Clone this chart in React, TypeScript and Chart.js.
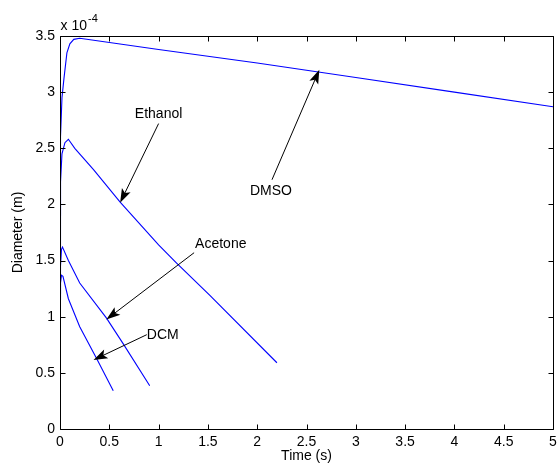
import React, { useEffect, useRef } from "react";
import { Chart, registerables } from "chart.js";
Chart.register(...registerables);

// Time (s) and diameter (x 1e-4 m) for each solvent
const dmsoTime = [0, 0.005, 0.02, 0.04, 0.07, 0.1, 0.14, 0.2, 1, 2, 3, 4, 5];
const dmsoDiam = [1.9, 2.6, 2.95, 3.12, 3.35, 3.43, 3.47, 3.48, 3.38, 3.26, 3.13, 3.0, 2.87];

const ethanolTime = [0, 0.005, 0.02, 0.05, 0.085, 0.15, 0.34, 0.61, 1.0, 1.18, 1.52, 2.2];
const ethanolDiam = [1.5, 2.2, 2.45, 2.55, 2.58, 2.5, 2.31, 2.02, 1.64, 1.48, 1.19, 0.59];

const acetoneTime = [0, 0.005, 0.015, 0.025, 0.085, 0.2, 0.47, 0.64, 0.91];
const acetoneDiam = [1.2, 1.45, 1.6, 1.62, 1.5, 1.3, 0.99, 0.76, 0.385];

const dcmTime = [0, 0.005, 0.015, 0.03, 0.085, 0.2, 0.37, 0.54];
const dcmDiam = [1.15, 1.3, 1.37, 1.36, 1.16, 0.91, 0.63, 0.34];

const xTicks = [0, 0.5, 1, 1.5, 2, 2.5, 3, 3.5, 4, 4.5, 5];
const yTicks = [0, 0.5, 1, 1.5, 2, 2.5, 3, 3.5];

// Text-arrow annotations (data coordinates)
const noteLabels = ["Ethanol", "DMSO", "Acetone", "DCM"];
const noteTextX = [1.0, 2.14, 1.37, 0.88];
const noteTextY = [2.8, 2.12, 1.65, 0.84];
const noteAlign = ["center", "center", "left", "left"];
const noteTailX = [1.0, 2.15, 1.36, 0.88];
const noteTailY = [2.72, 2.22, 1.57, 0.84];
const noteHeadX = [0.61, 2.63, 0.47, 0.34];
const noteHeadY = [2.015, 3.2, 0.975, 0.615];

const FONT = "'Liberation Sans', Arial, Helvetica, sans-serif";

const toXY = (t: number[], d: number[]) => t.map((v, i) => ({ x: v, y: d[i] }));

const boxPlugin = {
  id: "matlabBox",
  afterDraw(chart: any) {
    const { ctx, chartArea, scales } = chart;
    const { left, right, top, bottom } = chartArea;
    const L = Math.round(left) + 0.5;
    const R = Math.round(right) + 0.5;
    const T = Math.round(top) + 0.5;
    const B = Math.round(bottom) + 0.5;
    ctx.save();
    ctx.strokeStyle = "#000";
    ctx.lineWidth = 1;
    ctx.beginPath();
    ctx.rect(L, T, R - L, B - T);
    ctx.stroke();
    const tl = 5;
    ctx.beginPath();
    xTicks.forEach((v) => {
      const px = Math.round(scales.x.getPixelForValue(v)) + 0.5;
      ctx.moveTo(px, B);
      ctx.lineTo(px, B - tl);
      ctx.moveTo(px, T);
      ctx.lineTo(px, T + tl);
    });
    yTicks.forEach((v) => {
      const py = Math.round(scales.y.getPixelForValue(v)) + 0.5;
      ctx.moveTo(L, py);
      ctx.lineTo(L + tl, py);
      ctx.moveTo(R, py);
      ctx.lineTo(R - tl, py);
    });
    ctx.stroke();

    // exponent label
    ctx.fillStyle = "#000";
    ctx.textBaseline = "alphabetic";
    ctx.textAlign = "left";
    ctx.font = `14px ${FONT}`;
    ctx.fillText("x 10", L, T - 7);
    const w = ctx.measureText("x 10").width;
    ctx.font = `11px ${FONT}`;
    ctx.fillText("-4", L + w + 1, T - 15);

    // annotations
    noteLabels.forEach((label, i) => {
      const hx = scales.x.getPixelForValue(noteHeadX[i]);
      const hy = scales.y.getPixelForValue(noteHeadY[i]);
      const tx = scales.x.getPixelForValue(noteTailX[i]);
      const ty = scales.y.getPixelForValue(noteTailY[i]);
      const ang = Math.atan2(hy - ty, hx - tx);
      const len = 14;
      const half = 4.8;
      const ux = Math.cos(ang), uy = Math.sin(ang);
      const nx = -uy, ny = ux;
      ctx.strokeStyle = "#000";
      ctx.lineWidth = 1;
      ctx.beginPath();
      ctx.moveTo(tx, ty);
      ctx.lineTo(hx - ux * len * 0.7, hy - uy * len * 0.7);
      ctx.stroke();
      ctx.beginPath();
      ctx.moveTo(hx, hy);
      ctx.lineTo(hx - ux * len + nx * half, hy - uy * len + ny * half);
      ctx.lineTo(hx - ux * len * 0.78, hy - uy * len * 0.78);
      ctx.lineTo(hx - ux * len - nx * half, hy - uy * len - ny * half);
      ctx.closePath();
      ctx.fillStyle = "#000";
      ctx.fill();

      ctx.font = `14px ${FONT}`;
      ctx.textAlign = noteAlign[i] as CanvasTextAlign;
      ctx.textBaseline = "middle";
      ctx.fillText(
        label,
        scales.x.getPixelForValue(noteTextX[i]),
        scales.y.getPixelForValue(noteTextY[i])
      );
    });
    ctx.restore();
  },
};

export default function App() {
  const ref = useRef<HTMLCanvasElement | null>(null);
  useEffect(() => {
    if (!ref.current) return;
    const lineDs = (label: string, t: number[], d: number[]) => ({
      label,
      data: toXY(t, d),
      borderColor: "#0000ff",
      backgroundColor: "#0000ff",
      borderWidth: 1.1,
      pointRadius: 0,
      tension: 0,
      fill: false,
    });
    const chart = new Chart(ref.current, {
      type: "line",
      data: {
        datasets: [
          lineDs("DMSO", dmsoTime, dmsoDiam),
          lineDs("Ethanol", ethanolTime, ethanolDiam),
          lineDs("Acetone", acetoneTime, acetoneDiam),
          lineDs("DCM", dcmTime, dcmDiam),
        ],
      },
      options: {
        responsive: false,
        animation: false,
        devicePixelRatio: 1,
        layout: { padding: { top: 36, right: 5, left: 0, bottom: 0 } },
        plugins: { legend: { display: false }, tooltip: { enabled: false } },
        scales: {
          x: {
            type: "linear",
            min: 0,
            max: 5,
            grid: { display: false, drawTicks: false },
            border: { display: false },
            afterBuildTicks: (s: any) => {
              s.ticks = xTicks.map((v) => ({ value: v }));
            },
            afterFit: (s: any) => {
              s.height = 40;
              s.paddingRight = 0;
              s.paddingLeft = 0;
            },
            ticks: {
              color: "#000",
              padding: 5,
              maxRotation: 0,
              autoSkip: false,
              font: { family: FONT, size: 14 },
              callback: (v: any) => String(v),
            },
            title: {
              display: true,
              text: "Time (s)",
              color: "#000",
              font: { family: FONT, size: 14 },
              padding: { top: 0, bottom: 4 },
            },
          },
          y: {
            type: "linear",
            min: 0,
            max: 3.5,
            grid: { display: false, drawTicks: false },
            border: { display: false },
            afterBuildTicks: (s: any) => {
              s.ticks = yTicks.map((v) => ({ value: v }));
            },
            afterFit: (s: any) => {
              s.width = 60;
              s.paddingTop = 0;
              s.paddingBottom = 0;
            },
            ticks: {
              color: "#000",
              padding: 5,
              autoSkip: false,
              font: { family: FONT, size: 14 },
              callback: (v: any) => String(v),
            },
            title: {
              display: true,
              text: "Diameter (m)",
              color: "#000",
              font: { family: FONT, size: 14 },
              padding: { top: 10, bottom: 0 },
            },
          },
        },
      },
      plugins: [boxPlugin],
    } as any);
    return () => chart.destroy();
  }, []);
  return (
    <div style={{ position: "fixed", left: 0, top: 0, width: 558, height: 469, background: "#fff" }}>
      <canvas ref={ref} width={558} height={469} style={{ width: 558, height: 469, display: "block" }} />
    </div>
  );
}
